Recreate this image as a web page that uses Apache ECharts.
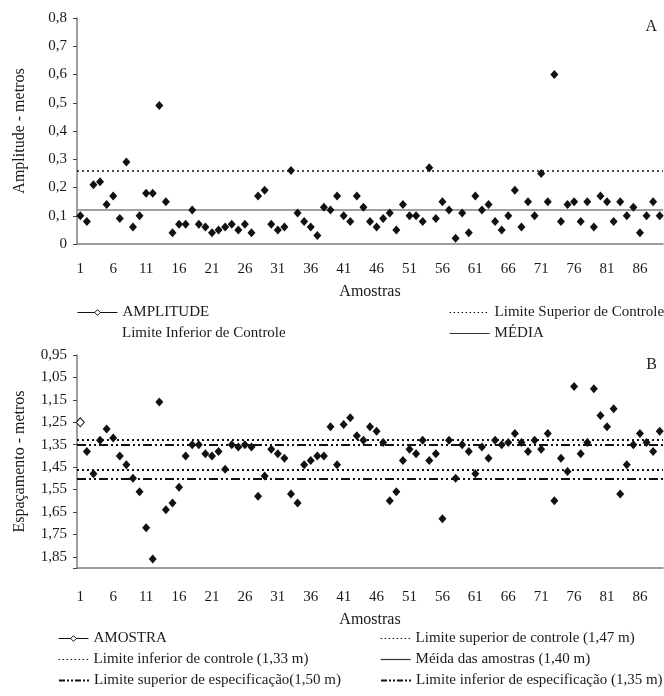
<!DOCTYPE html>
<html>
<head>
<meta charset="utf-8">
<script src="https://cdn.jsdelivr.net/npm/echarts@6/dist/echarts.min.js"></script>
<style>
  html, body { margin: 0; padding: 0; background: #fff; }
  #chart { width: 664px; height: 696px; }
</style>
</head>
<body>
<div id="chart"></div>
<script>
// amostras 1..89
var amostras = [];
for (var i = 1; i <= 89; i++) amostras.push(String(i));

// painel A - amplitude (m)
var amplitude = [
  0.10, 0.08, 0.21, 0.22, 0.14, 0.17, 0.09, 0.29, 0.06, 0.10,
  0.18, 0.18, 0.49, 0.15, 0.04, 0.07, 0.07, 0.12, 0.07, 0.06,
  0.04, 0.05, 0.06, 0.07, 0.05, 0.07, 0.04, 0.17, 0.19, 0.07,
  0.05, 0.06, 0.26, 0.11, 0.08, 0.06, 0.03, 0.13, 0.12, 0.17,
  0.10, 0.08, 0.17, 0.13, 0.08, 0.06, 0.09, 0.11, 0.05, 0.14,
  0.10, 0.10, 0.08, 0.27, 0.09, 0.15, 0.12, 0.02, 0.11, 0.04,
  0.17, 0.12, 0.14, 0.08, 0.05, 0.10, 0.19, 0.06, 0.15, 0.10,
  0.25, 0.15, 0.60, 0.08, 0.14, 0.15, 0.08, 0.15, 0.06, 0.17,
  0.15, 0.08, 0.15, 0.10, 0.13, 0.04, 0.10, 0.15, 0.10
];
var lscA = 0.26;
var mediaA = 0.12;

// painel B - espaçamento (m)
var espacamento = [
  1.25, 1.38, 1.48, 1.33, 1.28, 1.32, 1.40, 1.44, 1.50, 1.56,
  1.72, 1.86, 1.16, 1.64, 1.61, 1.54, 1.40, 1.35, 1.35, 1.39,
  1.40, 1.38, 1.46, 1.35, 1.36, 1.35, 1.36, 1.58, 1.49, 1.37,
  1.39, 1.41, 1.57, 1.61, 1.44, 1.42, 1.40, 1.40, 1.27, 1.44,
  1.26, 1.23, 1.31, 1.33, 1.27, 1.29, 1.34, 1.60, 1.56, 1.42,
  1.37, 1.39, 1.33, 1.42, 1.39, 1.68, 1.33, 1.50, 1.35, 1.38,
  1.48, 1.36, 1.41, 1.33, 1.35, 1.34, 1.30, 1.34, 1.38, 1.33,
  1.37, 1.30, 1.60, 1.41, 1.47, 1.09, 1.39, 1.34, 1.10, 1.22,
  1.27, 1.19, 1.57, 1.44, 1.35, 1.30, 1.34, 1.38, 1.29
];
var lscB = 1.46;
var licB = 1.33;
var mediaB = 1.40;
var lseB = 1.50;
var lieB = 1.35;

var FONT = 'Liberation Serif';
var INK = '#1a1a1a';
var AXIS = '#7f7f7f';
var DOTS = [2, 3];
var DASHDOT = [9, 3, 2, 3, 2, 3];

var myChart = echarts.init(document.getElementById('chart'));

function comma(v, d) {
  return v.toFixed(d).replace('.', ',');
}

function limitSeries(name, axis, value, color, width, type) {
  return {
    name: name,
    type: 'line',
    xAxisIndex: axis,
    yAxisIndex: axis,
    data: [],
    symbol: 'none',
    color: color,
    lineStyle: { color: color, width: width, type: type },
    markLine: value == null ? undefined : {
      silent: true,
      symbol: 'none',
      label: { show: false },
      lineStyle: { color: color, width: width, type: type },
      data: [{ yAxis: value }]
    }
  };
}

var xAxisBase = {
  type: 'category',
  data: amostras,
  boundaryGap: true,
  name: 'Amostras',
  nameLocation: 'middle',
  nameTextStyle: { fontFamily: FONT, fontSize: 16, color: INK },
  axisLine: { lineStyle: { color: AXIS, width: 1.5 } },
  axisTick: { length: 4, lineStyle: { color: '#444' } },
  axisLabel: { interval: 4, fontFamily: FONT, fontSize: 15, color: INK },
  splitLine: { show: false }
};

var seriesMain = function (name, axis, data) {
  return {
    name: name,
    type: 'line',
    xAxisIndex: axis,
    yAxisIndex: axis,
    data: data,
    symbol: 'diamond',
    symbolSize: [8, 9],
    showAllSymbol: true,
    lineStyle: { opacity: 0 },
    itemStyle: { color: '#111' },
    emphasis: { disabled: true },
    z: 5
  };
};

var bData = espacamento.map(function (v, i) {
  if (i === 0) return { value: v, itemStyle: { color: '#fff', borderColor: '#111', borderWidth: 1 } };
  return v;
});

var legendText = { fontFamily: FONT, fontSize: 15, color: INK };
// kind: 'hollow' | 'dots' | 'dash' | 'solid'
function leg(name, left, top, w, kind) {
  var l = {
    data: [name], left: left, top: top, padding: 0,
    itemWidth: w, itemHeight: 7, textStyle: legendText,
    selectedMode: false
  };
  if (kind === 'hollow') {
    l.itemStyle = { color: '#fff', borderColor: '#111', borderWidth: 1 };
    l.lineStyle = { color: '#111', width: 1, opacity: 1 };
  } else {
    l.itemStyle = { opacity: 0 };
    if (kind === 'dots') l.lineStyle = { opacity: 1, color: '#111', width: 1.2, type: [1.5, 2.5] };
    else if (kind === 'dash') l.lineStyle = { opacity: 1, color: '#111', width: 2, type: [6, 2, 2, 2, 2, 2] };
    else l.lineStyle = { opacity: 1, color: '#333', width: 1.2 };
  }
  return l;
}

var option = {
  animation: false,
  backgroundColor: '#fff',
  title: [
    { text: 'A', right: 2, top: 14, textStyle: { fontFamily: FONT, fontSize: 16, fontWeight: 'normal', color: INK } },
    { text: 'B', right: 2, top: 352, textStyle: { fontFamily: FONT, fontSize: 16, fontWeight: 'normal', color: INK } }
  ],
  grid: [
    { left: 77, top: 18, width: 586, height: 226 },
    { left: 77, top: 355, width: 586, height: 213 }
  ],
  xAxis: [
    Object.assign({}, xAxisBase, { gridIndex: 0, nameGap: 40, axisLabel: Object.assign({}, xAxisBase.axisLabel, { margin: 18 }) }),
    Object.assign({}, xAxisBase, { gridIndex: 1, nameGap: 44, axisLabel: Object.assign({}, xAxisBase.axisLabel, { margin: 22 }) })
  ],
  yAxis: [
    {
      gridIndex: 0, type: 'value', min: 0, max: 0.8, interval: 0.1,
      name: 'Amplitude - metros', nameLocation: 'middle', nameGap: 49,
      nameTextStyle: { fontFamily: FONT, fontSize: 16, color: INK },
      axisLine: { show: true, lineStyle: { color: AXIS, width: 1.5 } },
      axisTick: { show: true, length: 4, lineStyle: { color: '#444' } },
      axisLabel: { fontFamily: FONT, fontSize: 15, color: INK, margin: 10,
        formatter: function (v) { return v === 0 ? '0' : comma(v, 1); } },
      splitLine: { show: false }
    },
    {
      gridIndex: 1, type: 'value', inverse: true, min: 0.95, max: 1.9, interval: 0.1,
      name: 'Espaçamento - metros', nameLocation: 'middle', nameGap: 49,
      nameTextStyle: { fontFamily: FONT, fontSize: 16, color: INK },
      axisLine: { show: true, lineStyle: { color: AXIS, width: 1.5 } },
      axisTick: { show: true, length: 4, lineStyle: { color: '#444' } },
      axisLabel: { fontFamily: FONT, fontSize: 15, color: INK, margin: 10,
        formatter: function (v) { return v > 1.87 ? '' : comma(v, 2); } },
      splitLine: { show: false }
    }
  ],
  legend: [
    leg('AMPLITUDE', 77, 305, 40, 'hollow'),
    leg('Limite Superior de Controle', 449, 305, 40, 'dots'),
    leg('MÉDIA', 449, 326, 40, 'solid'),
    leg('AMOSTRA', 58, 631, 30, 'hollow'),
    leg('Limite inferior de controle (1,33 m)', 58, 652, 30, 'dots'),
    leg('Limite superior de especificação(1,50 m)', 58, 673, 30, 'dash'),
    leg('Limite superior de controle (1,47 m)', 380, 631, 30, 'dots'),
    leg('Méida das amostras (1,40 m)', 380, 652, 30, 'solid'),
    leg('Limite inferior de especificação (1,35 m)', 380, 673, 30, 'dash')
  ],
  graphic: [
    { type: 'text', left: 122, top: 326, style: { text: 'Limite Inferior de Controle', font: '15px "Liberation Serif"', fill: INK } }
  ],
  series: [
    seriesMain('AMPLITUDE', 0, amplitude),
    limitSeries('Limite Superior de Controle', 0, lscA, '#111', 1.5, DOTS),
    limitSeries('MÉDIA', 0, mediaA, '#808080', 1.5, 'solid'),
    seriesMain('AMOSTRA', 1, bData),
    limitSeries('Limite superior de controle (1,47 m)', 1, lscB, '#111', 2, DOTS),
    limitSeries('Limite inferior de controle (1,33 m)', 1, licB, '#111', 2, DOTS),
    limitSeries('Méida das amostras (1,40 m)', 1, null, '#555', 1.5, 'solid'),
    limitSeries('Limite superior de especificação(1,50 m)', 1, lseB, '#111', 2, DASHDOT),
    limitSeries('Limite inferior de especificação (1,35 m)', 1, lieB, '#111', 2, DASHDOT)
  ]
};

myChart.setOption(option);
</script>
</body>
</html>
